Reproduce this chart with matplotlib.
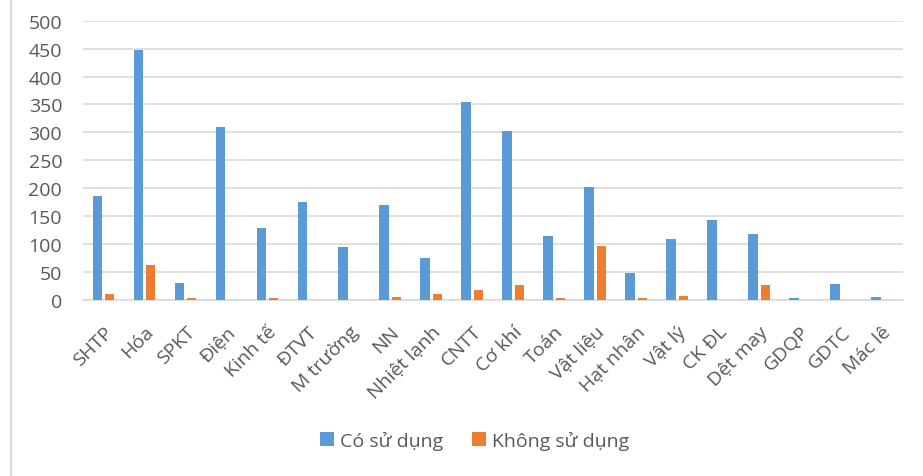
import matplotlib
matplotlib.use('Agg')
import matplotlib.pyplot as plt
import numpy as np
from matplotlib.lines import Line2D

plt.rcParams['font.family'] = ['Open Sans', 'DejaVu Sans']

# Nganh hoc and so luong
nganh = ['SHTP', 'Hóa', 'SPKT', 'Điện', 'Kinh tế', 'ĐTVT', 'M trường', 'NN',
         'Nhiệt lạnh', 'CNTT', 'Cơ khí', 'Toán', 'Vật liệu', 'Hạt nhân',
         'Vật lý', 'CK ĐL', 'Dệt may', 'GDQP', 'GDTC', 'Mác lê']
co_su_dung = [186, 448, 31, 309, 128, 175, 95, 170, 75, 355, 302, 115, 203,
              49, 110, 144, 118, 3, 29, 5]
khong_su_dung = [10, 62, 3, 0, 3, 0, 0, 5, 10, 18, 27, 3, 97, 3, 7, 0, 27,
                 0, 0, 0]

grey = '#595959'
x = np.arange(len(nganh))

fig = plt.figure(figsize=(9.23, 4.77), dpi=100)
ax = fig.add_axes([0.0899, 0.369, 0.888, 0.5855])

w = 0.23
ax.bar(x - 0.15, co_su_dung, width=w, color='#5B9BD5', label='Có sử dụng', zorder=3)
ax.bar(x + 0.15, khong_su_dung, width=w, color='#ED7D31', label='Không sử dụng', zorder=3)

ax.set_xlim(-0.5, len(nganh) - 0.5)
ax.set_ylim(0, 500)
ax.set_yticks(range(0, 501, 50))
ax.yaxis.grid(True, color='#d9d9d9', linewidth=1.2, zorder=0)
ax.set_axisbelow(True)

for side in ['top', 'right', 'left']:
    ax.spines[side].set_visible(False)
ax.spines['bottom'].set_color('#d9d9d9')
ax.spines['bottom'].set_linewidth(1.2)

ax.tick_params(axis='both', length=0, colors=grey, labelsize=14)
ax.tick_params(axis='y', pad=15)
ax.set_xticks(x)
ax.set_xticklabels(nganh, rotation=45, ha='right', va='top',
                   rotation_mode='anchor')
ax.tick_params(axis='x', pad=16)

fig.legend(loc='center', bbox_to_anchor=(0.514, 0.075), ncol=2, frameon=False,
           fontsize=14, labelcolor=grey, handlelength=0.75, handleheight=0.75,
           handletextpad=0.3, columnspacing=1.45)

# light frame on the left edge
fig.add_artist(Line2D([10.5 / 923, 10.5 / 923], [0, 1], color='#d9d9d9',
                      linewidth=1.5, transform=fig.transFigure))

fig.savefig('out.png', dpi=100)
